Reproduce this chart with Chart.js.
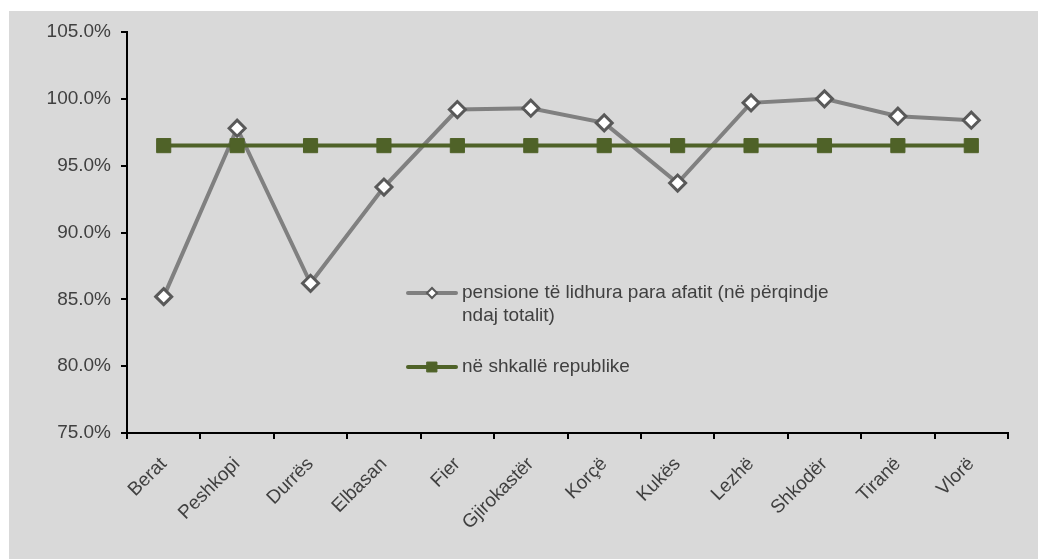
<!DOCTYPE html>
<html>
<head>
<meta charset="utf-8">
<script src="https://cdn.jsdelivr.net/npm/chart.js@4/dist/chart.umd.min.js"></script>
<style>
html, body { margin: 0; padding: 0; background: #fff; }
#wrap { position: relative; width: 1038px; height: 559px; }
</style>
</head>
<body>
<div id="wrap"><canvas id="linechart" width="1038" height="559"></canvas></div>
<script>
const cities = ['Berat','Peshkopi','Durrës','Elbasan','Fier','Gjirokastër','Korçë','Kukës','Lezhë','Shkodër','Tiranë','Vlorë'];
const pensionShare = [85.2, 97.8, 86.2, 93.4, 99.2, 99.3, 98.2, 93.7, 99.7, 100.0, 98.7, 98.4];
const nationalLevel = [96.5, 96.5, 96.5, 96.5, 96.5, 96.5, 96.5, 96.5, 96.5, 96.5, 96.5, 96.5];
const yTicks = [75, 80, 85, 90, 95, 100, 105];
const legendLines = [
    ['pensione të lidhura para afatit (në përqindje', 'ndaj totalit)'],
    ['në shkallë republike']
];

const FONT = "'Liberation Sans', Arial, sans-serif";
const TEXT = '#404040';
const GREY = '#808080';
const GREEN = '#4f6228';

// grey panel behind everything
const panelBg = {
    id: 'panelBg',
    beforeDraw(chart) {
        const c = chart.ctx;
        c.save();
        c.fillStyle = '#d9d9d9';
        c.fillRect(9, 11, chart.width - 9, chart.height - 11);
        c.restore();
    }
};

// legend sits inside the plot, drawn by hand
const innerLegend = {
    id: 'innerLegend',
    afterDraw(chart) {
        const c = chart.ctx;
        const items = [
            {y: 293, color: GREY, style: 'rectRot', fill: '#fff', border: '#595959', r: 5, bw: 2},
            {y: 367, color: GREEN, style: 'rect', fill: GREEN, border: GREEN, r: 7, bw: 1}
        ];
        c.save();
        items.forEach((it, i) => {
            c.strokeStyle = it.color;
            c.lineWidth = 4;
            c.lineCap = 'round';
            c.beginPath();
            c.moveTo(408, it.y);
            c.lineTo(456, it.y);
            c.stroke();
            c.fillStyle = it.fill;
            c.strokeStyle = it.border;
            c.lineWidth = it.bw;
            Chart.helpers.drawPoint(c, {pointStyle: it.style, radius: it.r, borderWidth: it.bw}, 432, it.y);
            c.fillStyle = TEXT;
            c.font = '19px ' + FONT;
            c.textBaseline = 'middle';
            legendLines[i].forEach((line, k) => c.fillText(line, 462, it.y + k * 23));
        });
        c.restore();
    }
};

const ctx = document.getElementById('linechart').getContext('2d');
const myLineChart = new Chart(ctx, {
    type: 'line',
    data: {
        labels: cities,
        datasets: [{
            label: legendLines[0].join(' '),
            data: pensionShare,
            borderColor: GREY,
            borderWidth: 4,
            pointStyle: 'rectRot',
            pointRadius: 8,
            pointBorderWidth: 3,
            pointBackgroundColor: '#ffffff',
            pointBorderColor: '#595959',
            tension: 0,
            order: 1
        }, {
            label: legendLines[1][0],
            data: nationalLevel,
            borderColor: GREEN,
            borderWidth: 4,
            pointStyle: 'rect',
            pointRadius: 10,
            pointBorderWidth: 1,
            pointBackgroundColor: GREEN,
            pointBorderColor: GREEN,
            tension: 0,
            order: 0
        }]
    },
    options: {
        responsive: false,
        animation: false,
        devicePixelRatio: 1,
        layout: {padding: {left: 0, top: 32, right: 30, bottom: 0}},
        plugins: {legend: {display: false}, tooltip: {enabled: false}},
        scales: {
            x: {
                offset: true,
                grid: {offset: true, drawOnChartArea: false, color: '#000', tickLength: 6, lineWidth: 2},
                border: {display: true, color: '#000', width: 2},
                ticks: {color: TEXT, font: {family: FONT, size: 19}, minRotation: 45, maxRotation: 45, padding: 14, autoSkip: false},
                afterFit: scale => { scale.height = 126; }
            },
            y: {
                min: 75,
                max: 105,
                afterBuildTicks: scale => { scale.ticks = yTicks.map(v => ({value: v})); },
                grid: {drawOnChartArea: false, color: '#000', tickLength: 6, lineWidth: 2},
                border: {display: true, color: '#000', width: 2},
                ticks: {color: TEXT, font: {family: FONT, size: 19}, padding: 10, callback: v => v.toFixed(1) + '%'},
                afterFit: scale => { scale.width = 127; }
            }
        }
    },
    plugins: [panelBg, innerLegend]
});
</script>
</body>
</html>
